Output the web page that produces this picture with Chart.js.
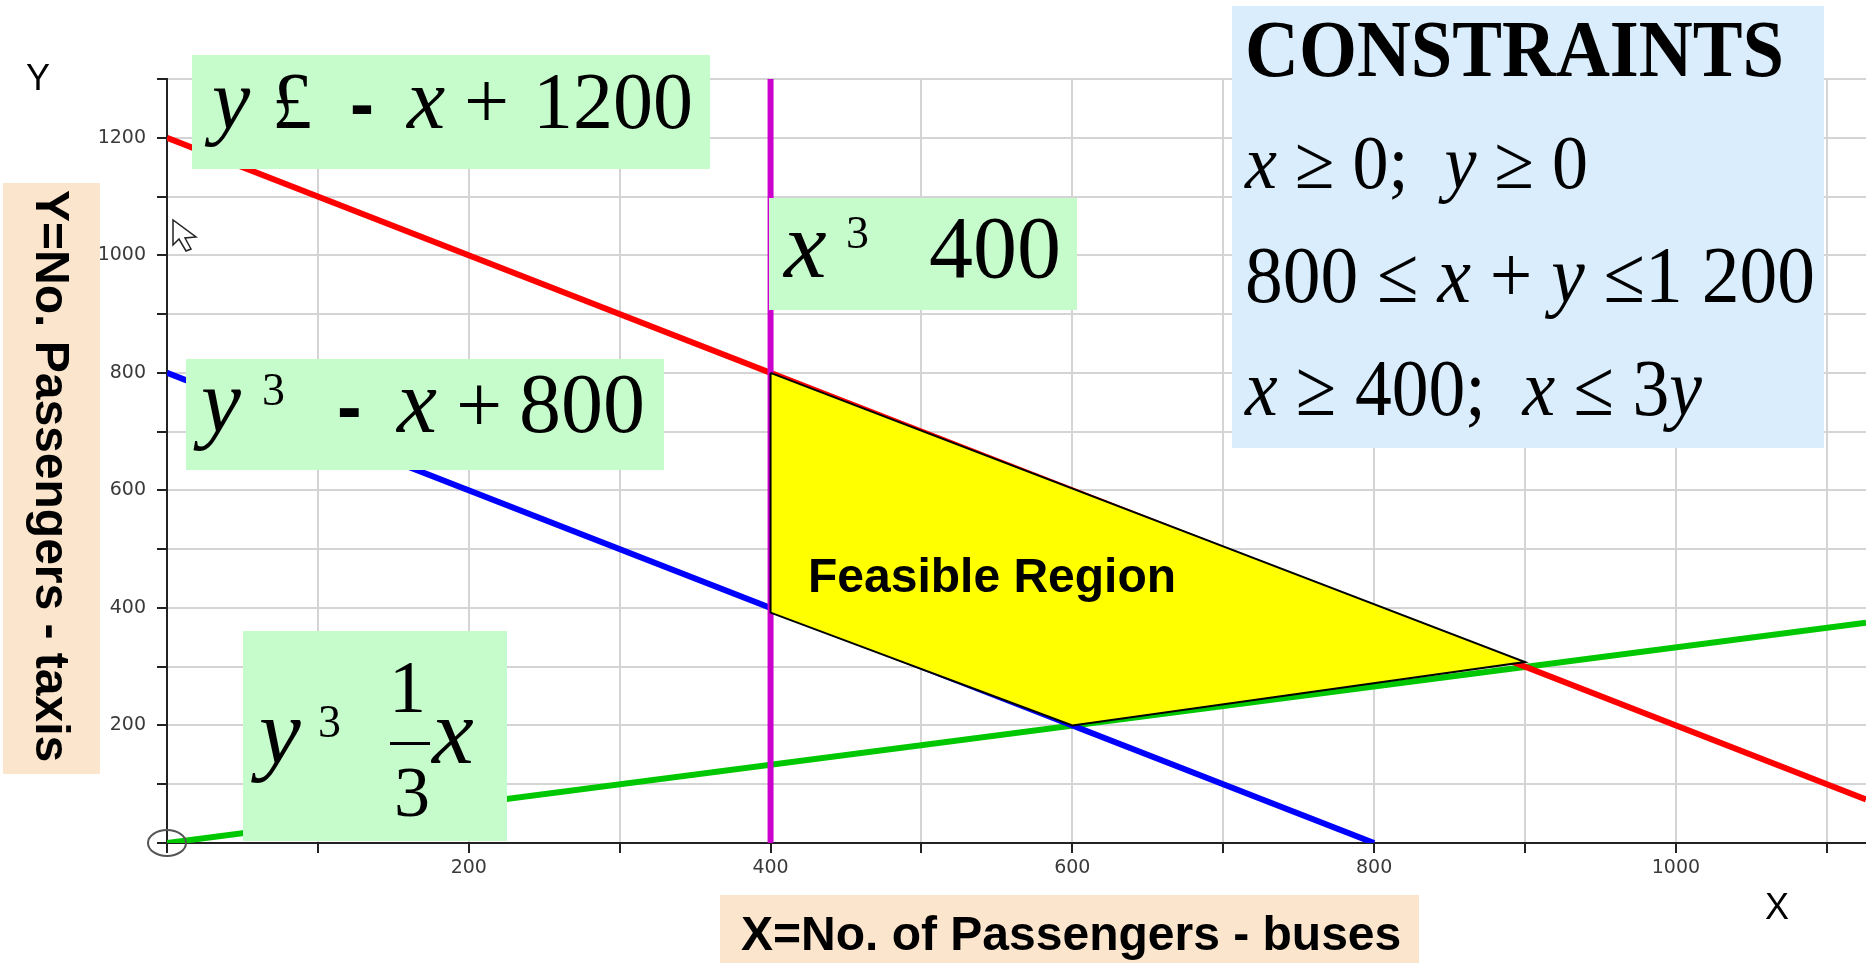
<!DOCTYPE html>
<html>
<head>
<meta charset="utf-8">
<script src="https://cdn.jsdelivr.net/npm/chart.js@4"></script>
<style>
  html, body { margin: 0; padding: 0; background: #fff; }
  canvas { display: block; }
</style>
</head>
<body>
<canvas id="lpChart" width="1866" height="963"></canvas>
<script>
// axis ranges and ticks
const xRange = [0, 1126];
const yRange = [0, 1300];
const gridStep = 100;
const xTickLabels = [200, 400, 600, 800, 1000];
const yTickLabels = [200, 400, 600, 800, 1000, 1200];

// constraint lines (end points)
const redX = [0, 1126];
const redY = [1200, 74];
const blueX = [0, 800];
const blueY = [800, 0];
const greenX = [0, 1126];
const greenY = [0, 375];
const magentaX = [400, 400];
const magentaY = [0, 1300];

// feasible region corners
const regionX = [400, 900, 600, 400, 400];
const regionY = [800, 308, 200, 392, 800];

function pts(xs, ys) {
  return xs.map((x, i) => ({ x: x, y: ys[i] }));
}

function lineSet(xs, ys, color, order) {
  return {
    data: pts(xs, ys),
    borderColor: color,
    borderWidth: 6,
    pointRadius: 0,
    fill: false,
    order: order
  };
}

const serif = '"Liberation Serif", "Times New Roman", serif';
const sans = '"Liberation Sans", Arial, sans-serif';

function box(ctx, x0, y0, x1, y1, color) {
  ctx.fillStyle = color;
  ctx.fillRect(x0, y0, x1 - x0, y1 - y0);
}

function txt(ctx, s, x, y, size, style, family) {
  ctx.font = (style || '') + ' ' + size + 'px ' + (family || serif);
  ctx.fillStyle = '#000';
  ctx.textBaseline = 'alphabetic';
  ctx.textAlign = 'left';
  ctx.fillText(s, x, y);
}

// draws a line of mixed italic / upright pieces squeezed to a given width
function fitLine(ctx, segs, x, y, size, width, family) {
  let total = 0;
  segs.forEach(s => {
    ctx.font = s[1] + ' ' + size + 'px ' + (family || serif);
    total += ctx.measureText(s[0]).width;
  });
  ctx.save();
  ctx.translate(x, y);
  ctx.scale(width / total, 1);
  let cx = 0;
  segs.forEach(s => {
    ctx.font = s[1] + ' ' + size + 'px ' + (family || serif);
    ctx.fillStyle = '#000';
    ctx.textBaseline = 'alphabetic';
    ctx.textAlign = 'left';
    ctx.fillText(s[0], cx, 0);
    cx += ctx.measureText(s[0]).width;
  });
  ctx.restore();
}

const overlay = {
  id: 'overlay',
  afterDraw(chart) {
    const ctx = chart.ctx;
    const xs = chart.scales.x, ys = chart.scales.y;
    const green = '#c6fccc';
    ctx.save();

    // origin circle
    ctx.strokeStyle = '#555';
    ctx.lineWidth = 2;
    ctx.beginPath();
    ctx.ellipse(xs.getPixelForValue(0), ys.getPixelForValue(0), 19, 13, 0, 0, Math.PI * 2);
    ctx.stroke();

    // mouse pointer
    ctx.save();
    ctx.translate(173, 220);
    ctx.beginPath();
    ctx.moveTo(0, 0); ctx.lineTo(0, 25); ctx.lineTo(6, 19); ctx.lineTo(13, 31);
    ctx.lineTo(18, 29); ctx.lineTo(12, 18); ctx.lineTo(23, 17); ctx.closePath();
    ctx.fillStyle = '#fff'; ctx.fill();
    ctx.strokeStyle = '#222'; ctx.lineWidth = 1.5; ctx.stroke();
    ctx.restore();

    // y <= -x + 1200
    box(ctx, 192, 55, 710, 169, green);
    txt(ctx, 'y', 212, 128, 86, 'italic');
    txt(ctx, '£', 272, 128, 80);
    txt(ctx, '-', 350, 128, 72, 'bold', sans);
    txt(ctx, 'x', 407, 128, 86, 'italic');
    txt(ctx, '+', 464, 128, 80);
    txt(ctx, '1200', 533, 128, 80);

    // x >= 400
    box(ctx, 769, 198, 1077, 310, green);
    txt(ctx, 'x', 784, 277, 96, 'italic');
    txt(ctx, '3', 846, 248, 46);
    txt(ctx, '400', 929, 277, 88);

    // y >= -x + 800
    box(ctx, 186, 359, 664, 470, green);
    txt(ctx, 'y', 201, 432, 90, 'italic');
    txt(ctx, '3', 262, 405, 46);
    txt(ctx, '-', 337, 432, 74, 'bold', sans);
    txt(ctx, 'x', 397, 432, 90, 'italic');
    txt(ctx, '+', 456, 432, 82);
    txt(ctx, '800', 519, 432, 84);

    // y >= x/3
    box(ctx, 243, 631, 507, 841, green);
    txt(ctx, 'y', 259, 763, 94, 'italic');
    txt(ctx, '3', 318, 737, 46);
    txt(ctx, '1', 389, 712, 74);
    ctx.fillStyle = '#000';
    ctx.fillRect(390, 742, 40, 3);
    txt(ctx, '3', 394, 816, 72);
    txt(ctx, 'x', 432, 763, 94, 'italic');

    // constraints panel
    box(ctx, 1232, 6, 1824, 448, '#d9edfd');
    fitLine(ctx, [['CONSTRAINTS', 'bold']], 1245, 76, 80, 539);
    fitLine(ctx, [['x', 'italic'], [' \u2265 0;  ', ''], ['y', 'italic'], [' \u2265 0', '']], 1245, 188, 76, 343);
    fitLine(ctx, [['800 \u2264 ', ''], ['x', 'italic'], [' + ', ''], ['y', 'italic'], [' \u22641 200', '']], 1245, 302, 80, 570);
    fitLine(ctx, [['x', 'italic'], [' \u2265 400;  ', ''], ['x', 'italic'], [' \u2264 3', ''], ['y', 'italic']], 1245, 415, 80, 457);

    // feasible region label
    txt(ctx, 'Feasible Region', 808, 592, 48, 'bold', sans);

    // axis titles
    box(ctx, 720, 895, 1419, 963, '#fbe5cd');
    txt(ctx, 'X=No. of Passengers - buses', 741, 950, 48, 'bold', sans);

    box(ctx, 3, 183, 100, 774, '#fbe5cd');
    ctx.save();
    ctx.translate(36, 190);
    ctx.rotate(Math.PI / 2);
    txt(ctx, 'Y=No. Passengers - taxis', 0, 0, 48, 'bold', sans);
    ctx.restore();

    txt(ctx, 'Y', 26, 90, 36, '', sans);
    txt(ctx, 'X', 1765, 919, 36, '', sans);

    ctx.restore();
  }
};

new Chart(document.getElementById('lpChart').getContext('2d'), {
  type: 'line',
  data: {
    datasets: [
      {
        data: pts(regionX, regionY),
        borderColor: '#000',
        borderWidth: 2,
        backgroundColor: '#ffff00',
        pointRadius: 0,
        fill: 'shape',
        order: 0
      },
      lineSet(magentaX, magentaY, '#cc00cc', 1),
      lineSet(redX, redY, '#ff0000', 1),
      lineSet(blueX, blueY, '#0000ff', 1),
      lineSet(greenX, greenY, '#00c800', 1)
    ]
  },
  options: {
    responsive: false,
    animation: false,
    events: [],
    layout: { padding: { top: 79, left: 0, right: 0, bottom: 0 } },
    plugins: { legend: { display: false }, tooltip: { enabled: false } },
    elements: { line: { tension: 0 } },
    scales: {
      x: {
        type: 'linear',
        min: xRange[0],
        max: xRange[1],
        afterFit: s => { s.height = 120; },
        grid: { color: '#d4d4d4', lineWidth: 2, tickColor: '#222', tickLength: 10, tickWidth: 2 },
        border: { color: '#222', width: 2 },
        ticks: {
          stepSize: gridStep,
          includeBounds: false,
          autoSkip: false,
          maxRotation: 0,
          padding: 4,
          color: '#3a3a3a',
          font: { family: '"DejaVu Sans"', size: 19 },
          callback: v => xTickLabels.includes(v) ? String(v) : ''
        }
      },
      y: {
        type: 'linear',
        min: yRange[0],
        max: yRange[1],
        afterFit: s => { s.width = 167; },
        grid: { color: '#d4d4d4', lineWidth: 2, tickColor: '#222', tickLength: 10, tickWidth: 2 },
        border: { color: '#222', width: 2 },
        ticks: {
          stepSize: gridStep,
          includeBounds: false,
          autoSkip: false,
          padding: 11,
          color: '#3a3a3a',
          font: { family: '"DejaVu Sans"', size: 19 },
          callback: v => yTickLabels.includes(v) ? String(v) : ''
        }
      }
    }
  },
  plugins: [overlay]
});
</script>
</body>
</html>
